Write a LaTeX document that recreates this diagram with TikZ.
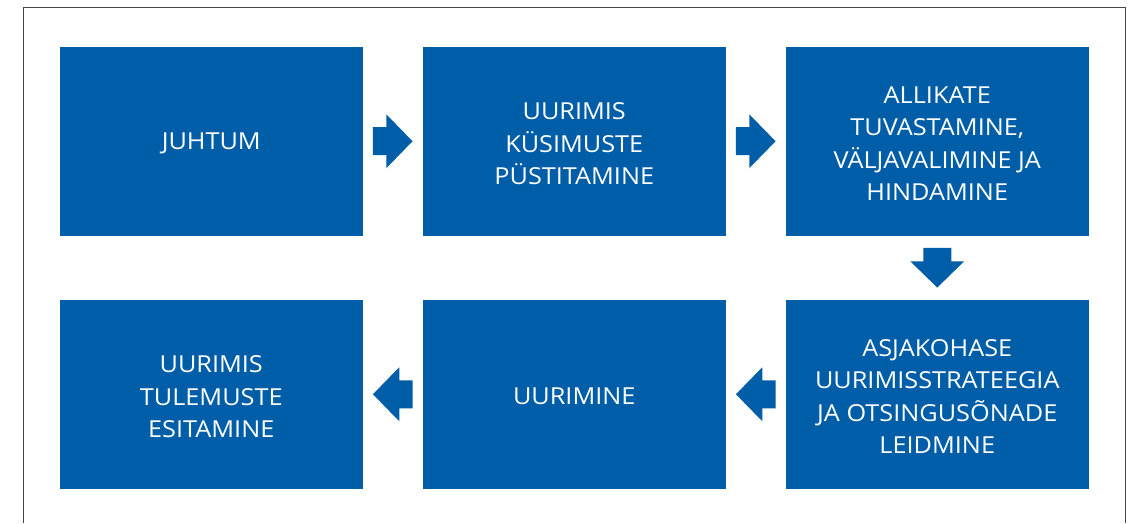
\documentclass[tikz,border=0pt]{standalone}
\usepackage{fontspec}
\usepackage{tikz}
\usetikzlibrary{positioning,calc}
\newfontfamily\boxfont[FakeStretch=1.08]{Open Sans}
\definecolor{stepblue}{RGB}{0,94,168}
\definecolor{framec}{RGB}{70,70,70}
\tikzset{
  stepbox/.style={fill=stepblue,minimum width=302.5pt,minimum height=188.5pt,
    inner sep=0pt,outer sep=0pt},
  steptext/.style={text=white,align=center,inner sep=0pt,yshift=-2.5pt,
    font=\boxfont\fontsize{23.4}{32.5}\selectfont},
  blockarrow/.pic={\fill[stepblue] (-19.8,-14)--(-6.5,-14)--(-6.5,-27)--(19.8,0)
    --(-6.5,27)--(-6.5,14)--(-19.8,14)--cycle;}
}
\begin{document}
\begin{tikzpicture}[x=1pt,y=1pt]
\useasboundingbox (0,0) rectangle (1131,523);
% frame, open at the bottom
\draw[framec,line width=1.2pt] (23.5,0)|-(1125.3,515.5)--(1125.3,0);
% upper row
\node[stepbox,label={[steptext]center:JUHTUM}] (juhtum) at (211.25,381.75) {};
\node[stepbox,right=60.5pt of juhtum,
  label={[steptext]center:UURIMIS\\KÜSIMUSTE\\PÜSTITAMINE}] (kysimus) {};
\node[stepbox,right=60.5pt of kysimus,
  label={[steptext]center:{ALLIKATE\\TUVASTAMINE,\\VÄLJAVALIMINE JA\\HINDAMINE}}] (allikad) {};
% lower row
\node[stepbox,below=64.5pt of allikad,
  label={[steptext]center:ASJAKOHASE\\UURIMISSTRATEEGIA\\JA OTSINGUSÕNADE\\LEIDMINE}] (strateegia) {};
\node[stepbox,left=60.5pt of strateegia,label={[steptext]center:UURIMINE}] (uurimine) {};
\node[stepbox,left=60.5pt of uurimine,
  label={[steptext]center:UURIMIS\\TULEMUSTE\\ESITAMINE}] (esitamine) {};
% block arrows between the steps
\pic at ($(juhtum.east)!0.5!(kysimus.west)$) {blockarrow};
\pic at ($(kysimus.east)!0.5!(allikad.west)$) {blockarrow};
\pic[rotate=-90] at ($(allikad.south)!0.5!(strateegia.north)$) {blockarrow};
\pic[rotate=180] at ($(strateegia.west)!0.5!(uurimine.east)$) {blockarrow};
\pic[rotate=180] at ($(uurimine.west)!0.5!(esitamine.east)$) {blockarrow};
\end{tikzpicture}
\end{document}
